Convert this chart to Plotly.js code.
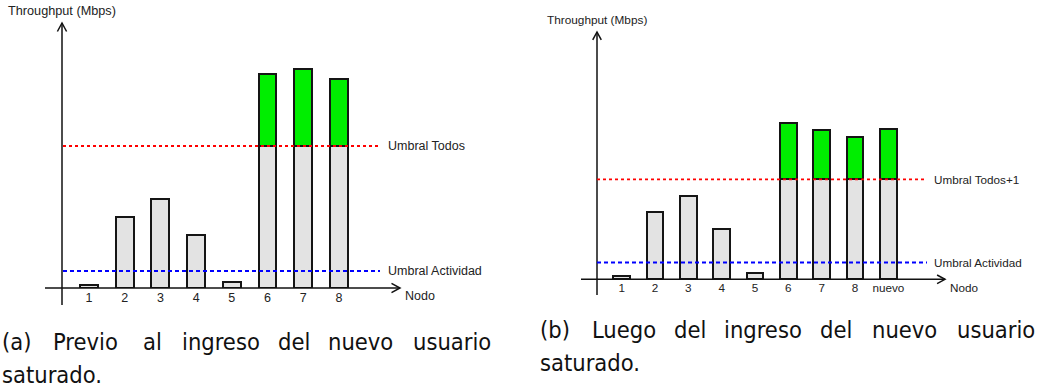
<!DOCTYPE html>
<html>
<head>
<meta charset="utf-8">
<script src="https://cdn.plot.ly/plotly-3.0.1.min.js"></script>
<style>html,body{margin:0;padding:0;background:#fff;}#chart{width:1037px;height:390px;}</style>
</head>
<body>
<div id="chart"></div>
<script>
// ---------- data ----------
const nodesA = ['1', '2', '3', '4', '5', '6', '7', '8'];
const throughputA = [0.3, 7.1, 8.9, 5.3, 0.6, 21.4, 21.9, 20.9];
const umbralTodosA = 14.2;
const umbralActividadA = 1.7;

const nodesB = ['1', '2', '3', '4', '5', '6', '7', '8', 'nuevo'];
const throughputB = [0.35, 7.2, 8.9, 5.4, 0.65, 16.7, 16.05, 15.3, 16.1];
const umbralTodosB = 10.7;
const umbralActividadB = 1.8;

const yAxisTitle = 'Throughput (Mbps)';
const xAxisTitle = 'Nodo';
const labelTodosA = 'Umbral Todos';
const labelTodosB = 'Umbral Todos+1';
const labelActividad = 'Umbral Actividad';
const captionA = ['(a) Previo al ingreso del nuevo usuario', 'saturado.'];
const captionB = ['(b) Luego del ingreso del nuevo usuario', 'saturado.'];

// ---------- helpers ----------
const W = 1037, H = 390;
const PX = p => p / W;
const PY = p => 1 - p / H;
const GRAY = '#e3e3e3', GREEN = '#00ee00', EDGE = '#151515';

function barTraces(nodes, vals, thr, xa, ya) {
  const xs = nodes.map((_, i) => i + 1);
  const base = vals.map(v => Math.min(v, thr));
  const extra = vals.map(v => v > thr ? v - thr : null);
  const common = {type: 'bar', x: xs, width: 0.5, xaxis: xa, yaxis: ya, hoverinfo: 'skip', showlegend: false};
  return [
    Object.assign({}, common, {y: base, marker: {color: GRAY, line: {color: EDGE, width: 2}}}),
    Object.assign({}, common, {y: extra, marker: {color: GREEN, line: {color: EDGE, width: 2}}})
  ];
}

const data = [
  ...barTraces(nodesA, throughputA, umbralTodosA, 'x', 'y'),
  ...barTraces(nodesB, throughputB, umbralTodosB, 'x2', 'y2')
];

// panel geometry (pixels)
const A = {x0: 45, x1: 400, c1: 89, step: 35.71, base: 288, top: 23, yx: 62, ybot: 305, lx0: 63, lx1: 380, lab: 387, fs: 12.5};
const B = {x0: 581, x1: 945, c1: 621.7, step: 33.33, base: 279.3, top: 32, yx: 597, ybot: 295, lx0: 597, lx1: 927, lab: 933, fs: 11.7};
const YTOP = 26.5;

function xaxisFor(P, nodes, anchor) {
  return {
    domain: [PX(P.x0), PX(P.x1)],
    range: [(P.x0 - P.c1) / P.step + 1, (P.x1 - P.c1) / P.step + 1],
    anchor: anchor, tickvals: nodes.map((_, i) => i + 1), ticktext: nodes,
    ticks: '', showgrid: false, zeroline: false, showline: false, fixedrange: true,
    tickfont: {family: 'Liberation Sans, Arial, sans-serif', size: P.fs, color: '#222'}
  };
}
function yaxisFor(P, anchor) {
  return {
    domain: [PY(P.base), PY(P.top)], range: [0, YTOP], anchor: anchor,
    showticklabels: false, ticks: '', showgrid: false, zeroline: false, showline: false, fixedrange: true
  };
}

function axisShapes(P, sc) {
  const s = [];
  const ln = {color: '#111', width: 1.5};
  s.push({type: 'line', xref: 'paper', yref: 'paper', x0: PX(P.x0), x1: PX(P.x1), y0: PY(P.base), y1: PY(P.base), line: ln});
  s.push({type: 'line', xref: 'paper', yref: 'paper', x0: PX(P.yx), x1: PX(P.yx), y0: PY(P.ybot), y1: PY(P.top), line: ln});
  const al = 8.5 * sc, aw = 4.6 * sc;
  s.push({type: 'path', xref: 'paper', yref: 'paper', line: ln,
    path: `M ${PX(P.yx - aw)},${PY(P.top + al)} L ${PX(P.yx)},${PY(P.top)} L ${PX(P.yx + aw)},${PY(P.top + al)}`});
  s.push({type: 'path', xref: 'paper', yref: 'paper', line: ln,
    path: `M ${PX(P.x1 - al)},${PY(P.base - aw)} L ${PX(P.x1)},${PY(P.base)} L ${PX(P.x1 - al)},${PY(P.base + aw)}`});
  return s;
}

function thrShape(P, xa, ya, y, color, width, dash) {
  const span = P.x1 - P.x0;
  return {type: 'line', xref: xa + ' domain', yref: ya, x0: (P.lx0 - P.x0) / span, x1: (P.lx1 - P.x0) / span,
    y0: y, y1: y, line: {color: color, width: width, dash: dash}, layer: 'above'};
}

const shapes = [
  ...axisShapes(A, 1), ...axisShapes(B, 0.93),
  thrShape(A, 'x', 'y', umbralTodosA, '#ff0000', 1.8, '3px,3px'),
  thrShape(A, 'x', 'y', umbralActividadA, '#0000ff', 2, '4px,3px'),
  thrShape(B, 'x2', 'y2', umbralTodosB, '#ff0000', 1.8, '3px,3px'),
  thrShape(B, 'x2', 'y2', umbralActividadB, '#0000ff', 2, '4px,3px')
];

const small = fs => ({family: 'Liberation Sans, Arial, sans-serif', size: fs, color: '#222'});
function thrLabel(P, xa, ya, y, text) {
  return {xref: xa + ' domain', yref: ya, x: (P.lab - P.x0) / (P.x1 - P.x0), y: y, text: text,
    xanchor: 'left', yanchor: 'middle', showarrow: false, font: small(P.fs), borderpad: 0};
}
function paperLabel(x, y, text, fs) {
  return {xref: 'paper', yref: 'paper', x: PX(x), y: PY(y), text: text, xanchor: 'left', yanchor: 'middle',
    showarrow: false, font: small(fs), borderpad: 0};
}

const annotations = [
  thrLabel(A, 'x', 'y', umbralTodosA, labelTodosA),
  thrLabel(A, 'x', 'y', umbralActividadA, labelActividad),
  thrLabel(B, 'x2', 'y2', umbralTodosB, labelTodosB),
  thrLabel(B, 'x2', 'y2', umbralActividadB, labelActividad),
  paperLabel(7, 11, yAxisTitle, 12.7),
  paperLabel(546, 20, yAxisTitle, 11.8),
  paperLabel(404, 296, xAxisTitle, 12.5),
  paperLabel(949, 287, xAxisTitle, 11.7)
];

// captions: justified first line (word positions), second line left aligned
const capFont = {family: 'DejaVu Sans Condensed, DejaVu Sans, sans-serif', size: 23.5, color: '#111'};
function captionWords(line, xs, centerY) {
  return line.split(' ').map((w, i) => ({xref: 'paper', yref: 'paper', x: PX(xs[i]), y: PY(centerY), text: w,
    xanchor: 'left', yanchor: 'middle', showarrow: false, font: capFont, borderpad: 0}));
}
annotations.push(...captionWords(captionA[0], [1, 52, 142, 181, 277, 327, 412], 342));
annotations.push(...captionWords(captionA[1], [1], 375));
annotations.push(...captionWords(captionB[0], [539, 591, 673, 723, 819, 871, 956], 330));
annotations.push(...captionWords(captionB[1], [539], 363));

const layout = {
  width: W, height: H, margin: {l: 0, r: 0, t: 0, b: 0},
  paper_bgcolor: '#fff', plot_bgcolor: 'rgba(0,0,0,0)',
  barmode: 'stack', showlegend: false,
  xaxis: xaxisFor(A, nodesA, 'y'), yaxis: yaxisFor(A, 'x'),
  xaxis2: xaxisFor(B, nodesB, 'y2'), yaxis2: yaxisFor(B, 'x2'),
  shapes: shapes, annotations: annotations
};

Plotly.newPlot('chart', data, layout, {staticPlot: true, displayModeBar: false});
</script>
</body>
</html>
